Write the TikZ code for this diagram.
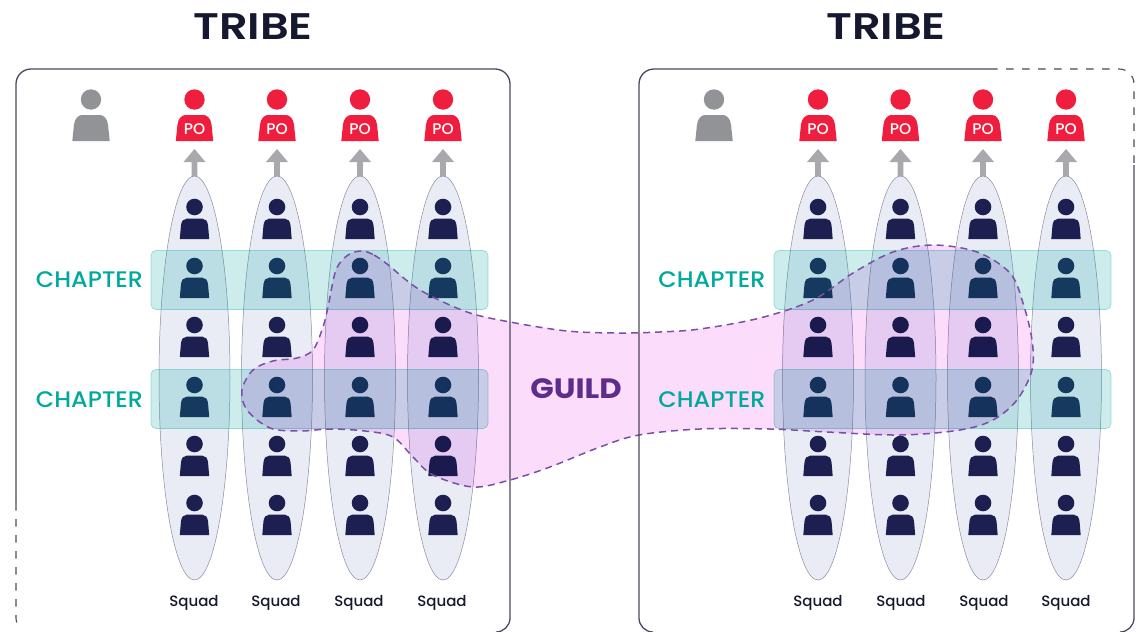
\documentclass[tikz,border=0pt]{standalone}
\usepackage{fontspec}
\setmainfont{Poppins}
\newfontfamily\popm{Poppins Medium}
\newfontfamily\popc[FakeStretch=1.06]{Poppins Medium}
\newfontfamily\pops[FakeStretch=1.21]{Poppins SemiBold}
\newfontfamily\popg[FakeStretch=1.1]{Poppins}
\definecolor{navy}{HTML}{1C1F50}
\definecolor{inkT}{HTML}{15182E}
\definecolor{poRed}{HTML}{F01E3E}
\definecolor{grayP}{HTML}{929396}
\definecolor{arrowG}{HTML}{A8A9AD}
\definecolor{squadFill}{HTML}{E9ECF5}
\definecolor{squadLine}{HTML}{8A8CA3}
\definecolor{teal}{HTML}{00A99D}
\definecolor{pinkF}{HTML}{FBDCFB}
\definecolor{guildC}{HTML}{5E2D8C}
\definecolor{guildL}{HTML}{7A4FA6}
\definecolor{frameC}{HTML}{4A4A5E}
\newcommand{\dude}[3]{%
 \fill[#3] (#1,#2) circle (8.3);
 \fill[#3] ({#1-14.7},{#2+32}) -- ({#1-13.6},{#2+19}) .. controls ({#1-13.2},{#2+14}) and ({#1-11},{#2+11.7}) .. ({#1-8},{#2+11.7}) -- ({#1+8},{#2+11.7}) .. controls ({#1+11},{#2+11.7}) and ({#1+13.2},{#2+14}) .. ({#1+13.6},{#2+19}) -- ({#1+14.7},{#2+32}) -- cycle;}
\newcommand{\bigdude}[3]{%
 \fill[#3] (#1,#2) circle (10.2);
 \fill[#3] ({#1-18.7},{#2+41.5}) -- ({#1-17},{#2+25}) .. controls ({#1-16.3},{#2+19}) and ({#1-12.5},{#2+15.5}) .. ({#1-9},{#2+15.5}) -- ({#1+9},{#2+15.5}) .. controls ({#1+12.5},{#2+15.5}) and ({#1+16.3},{#2+19}) .. ({#1+17},{#2+25}) -- ({#1+18.7},{#2+41.5}) -- cycle;}
\newcommand{\upg}[1]{%
 \fill[arrowG] (#1,149) -- ({#1+11},162) -- ({#1+2.8},162) -- ({#1+2.8},178) -- ({#1-2.8},178) -- ({#1-2.8},162) -- ({#1-11},162) -- cycle;}
\tikzset{
 solidframe/.style={draw=frameC,line width=1.3pt},
 dashframe/.style={draw=frameC,line width=1.1pt,dash pattern=on 7.5pt off 8.5pt},
 squad/.style={fill=squadFill,draw=squadLine,line width=0.5pt},
 chapterbox/.style={draw=teal,rounded corners=5pt,fill=teal,fill opacity=.2,draw opacity=.35,line width=.7pt},
 guildblob/.style={fill=pinkF,blend mode=multiply},
 guildline/.style={draw=guildL,line width=1.5pt,dash pattern=on 7pt off 5pt},
 titletxt/.style={font=\pops\fontsize{37}{40}\selectfont,text=inkT},
 chaptxt/.style={font=\popc\fontsize{22.5}{24}\selectfont,text=teal},
 squadtxt/.style={font=\popm\fontsize{15}{16}\selectfont,text=inkT},
 potxt/.style={font=\popm\fontsize{15.5}{16}\selectfont,text=white},
 guildtxt/.style={font=\popg\bfseries\fontsize{28}{30}\selectfont,text=guildC}
}
\begin{document}
\begin{tikzpicture}[x=1pt,y=-1pt]
\useasboundingbox (0,0) rectangle (1136,632);
\fill[white] (0,0) rectangle (1136,632);
% arrows
\foreach \x in {194.5,277,360,443,818,900.5,983,1066}{\upg{\x}}
% squads
\foreach \x in {194.5,277,360,443,818,900.5,983,1066}{
 \path[squad] (\x,378) ellipse (35.5 and 202);
}
% persons
\foreach \x in {194.5,277,360,443,818,900.5,983,1066}{
 \foreach \y in {207,266,325,385,444,503}{\dude{\x}{\y}{navy}}
 \bigdude{\x}{99.5}{poRed}
 \node[potxt] (po\x) at (\x,129.5) {PO};
}
\bigdude{91}{99.5}{grayP}
\bigdude{714}{99.5}{grayP}
% chapter boxes
\foreach \x/\n in {151/a,774/b}{
 \foreach \y/\m in {250.5/u,369.5/d}{
  \path[chapterbox] (\x,\y) rectangle ({\x+337},{\y+59});
 }
}
% guild
\def\blobpath{plot[smooth cycle,tension=.55] coordinates {(362,251) (374,255) (387,264) (420,290) (467,312) (510,322) (567,331) (617,333) (660,332) (700,329) (760,318) (813,300) (853,273) (893,252) (933,245) (977,252) (1010,273) (1023,303) (1032,340) (1032,370) (1017,400) (993,420) (960,430) (900,435) (827,432) (770,429) (700,429) (639,435) (600,447) (550,467) (510,480) (473,487) (433,475) (413,457) (393,437) (365,431) (330,429) (300,431) (270,428) (247,410) (242,390) (253,370) (273,361) (297,358) (313,350) (323,327) (328,307) (336,270) (348,255)}}
\path[guildblob] \blobpath;
\path[guildline] \blobpath;
% frames
\draw[solidframe] (16,503) -- (16,84) arc[start angle=180,end angle=270,radius=15] -- (495,69) arc[start angle=270,end angle=360,radius=15] -- (510,618) arc[start angle=0,end angle=90,radius=14];
\draw[dashframe] (16,503) -- (16,618) arc[start angle=180,end angle=135,radius=14];
\draw[solidframe] (990,69) -- (654,69) arc[start angle=270,end angle=180,radius=15] -- (639,618) arc[start angle=180,end angle=90,radius=14];
\draw[dashframe] (990,69) -- (1119,69) arc[start angle=270,end angle=360,radius=15] -- (1134,165);
\draw[solidframe] (1134,165) -- (1134,618) arc[start angle=0,end angle=90,radius=14];
% labels
\node[titletxt] (t1) at (253,27) {TRIBE};
\node[titletxt] (t2) at (886,27) {TRIBE};
\node[chaptxt] (c1) at (89.5,279.5) {CHAPTER};
\node[chaptxt] (c2) at (89.5,399.5) {CHAPTER};
\node[chaptxt] (c3) at (712,279.5) {CHAPTER};
\node[chaptxt] (c4) at (712,399.5) {CHAPTER};
\node[guildtxt] (g) at (576,389) {GUILD};
\foreach \x in {194,276,359,442,818,901,984,1066}{
 \node[squadtxt] (s\x) at (\x,603) {Squad};
}
\end{tikzpicture}
\end{document}
